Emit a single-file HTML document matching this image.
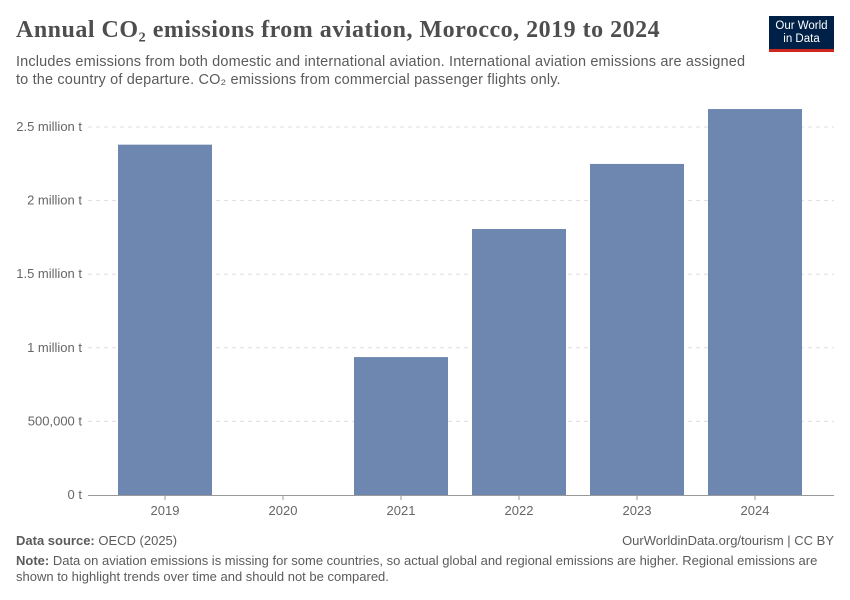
<!DOCTYPE html>
<html><head><meta charset="utf-8"><style>
body{margin:0;background:#fff;font-family:"Liberation Sans",sans-serif;}
#c{position:relative;width:850px;height:600px;overflow:hidden;}
.t{position:absolute;white-space:nowrap;}
</style></head><body>
<div id="c">
<div class="t" style="left:16px;top:17px;font-family:'Liberation Serif',serif;font-size:24px;font-weight:bold;letter-spacing:0.5px;color:#4e4e4e;">Annual CO₂ emissions from aviation, Morocco, 2019 to 2024</div>
<div class="t" style="left:16px;top:53px;font-size:14.5px;line-height:18px;letter-spacing:0.15px;color:#5b5b5b;">Includes emissions from both domestic and international aviation. International aviation emissions are assigned<br>to the country of departure. CO₂ emissions from commercial passenger flights only.</div>
<div style="position:absolute;left:769px;top:16px;width:65px;height:36px;background:#002147;border-bottom:3px solid #ce261e;color:#fff;font-size:11.5px;text-align:center;line-height:13px;padding-top:4px;box-sizing:border-box;">Our World<br>in Data</div>
<svg id="s" width="850" height="600" style="position:absolute;left:0;top:0"></svg>
<div class="t" style="left:16px;top:533px;font-size:13px;color:#5b5b5b;"><b>Data source:</b> OECD (2025)</div>
<div class="t" style="right:16px;top:533px;font-size:13px;color:#5b5b5b;">OurWorldinData.org/tourism | CC BY</div>
<div class="t" style="left:16px;top:553px;font-size:13px;line-height:16px;color:#5b5b5b;"><b>Note:</b> Data on aviation emissions is missing for some countries, so actual global and regional emissions are higher. Regional emissions are<br>shown to highlight trends over time and should not be compared.</div>
</div>
<script>
const years=["2019","2020","2021","2022","2023","2024"];
const values=[2380000,null,937000,1807000,2249000,2622000];
const ticks=[0,500000,1000000,1500000,2000000,2500000];
const tickLabels=["0 t","500,000 t","1 million t","1.5 million t","2 million t","2.5 million t"];
const NS="http://www.w3.org/2000/svg";
const s=document.getElementById('s');
const y=v=>495-v*(368/2500000);
const x=i=>165+118*i;
function el(t,a){const e=document.createElementNS(NS,t);for(const k in a)e.setAttribute(k,a[k]);s.appendChild(e);return e;}
ticks.forEach((t,i)=>{
 if(t>0){const g=el('line',{x1:88,x2:834,y1:y(t),y2:y(t),stroke:'#ddd','stroke-dasharray':'4,4'});
 
 }
 const l=el('text',{x:82,y:y(t)+4,'text-anchor':'end','font-size':13,fill:'#666','font-family':'Liberation Sans,sans-serif'});
 l.textContent=tickLabels[i];
 
 
});
values.forEach((v,i)=>{
 if(v!=null){const r=el('rect',{x:x(i)-47,y:y(v),width:94,height:495-y(v),fill:'#6d87b0'});
 
 }
 const tk=el('line',{x1:x(i),x2:x(i),y1:495,y2:500,stroke:'#999'});
 
 
 const l=el('text',{x:x(i),y:515,'text-anchor':'middle','font-size':13,fill:'#666','font-family':'Liberation Sans,sans-serif'});
 l.textContent=years[i];
 
 
});
const ax=el('line',{x1:88,x2:834,y1:495.5,y2:495.5,stroke:'#999'});


</script>
</body></html>
